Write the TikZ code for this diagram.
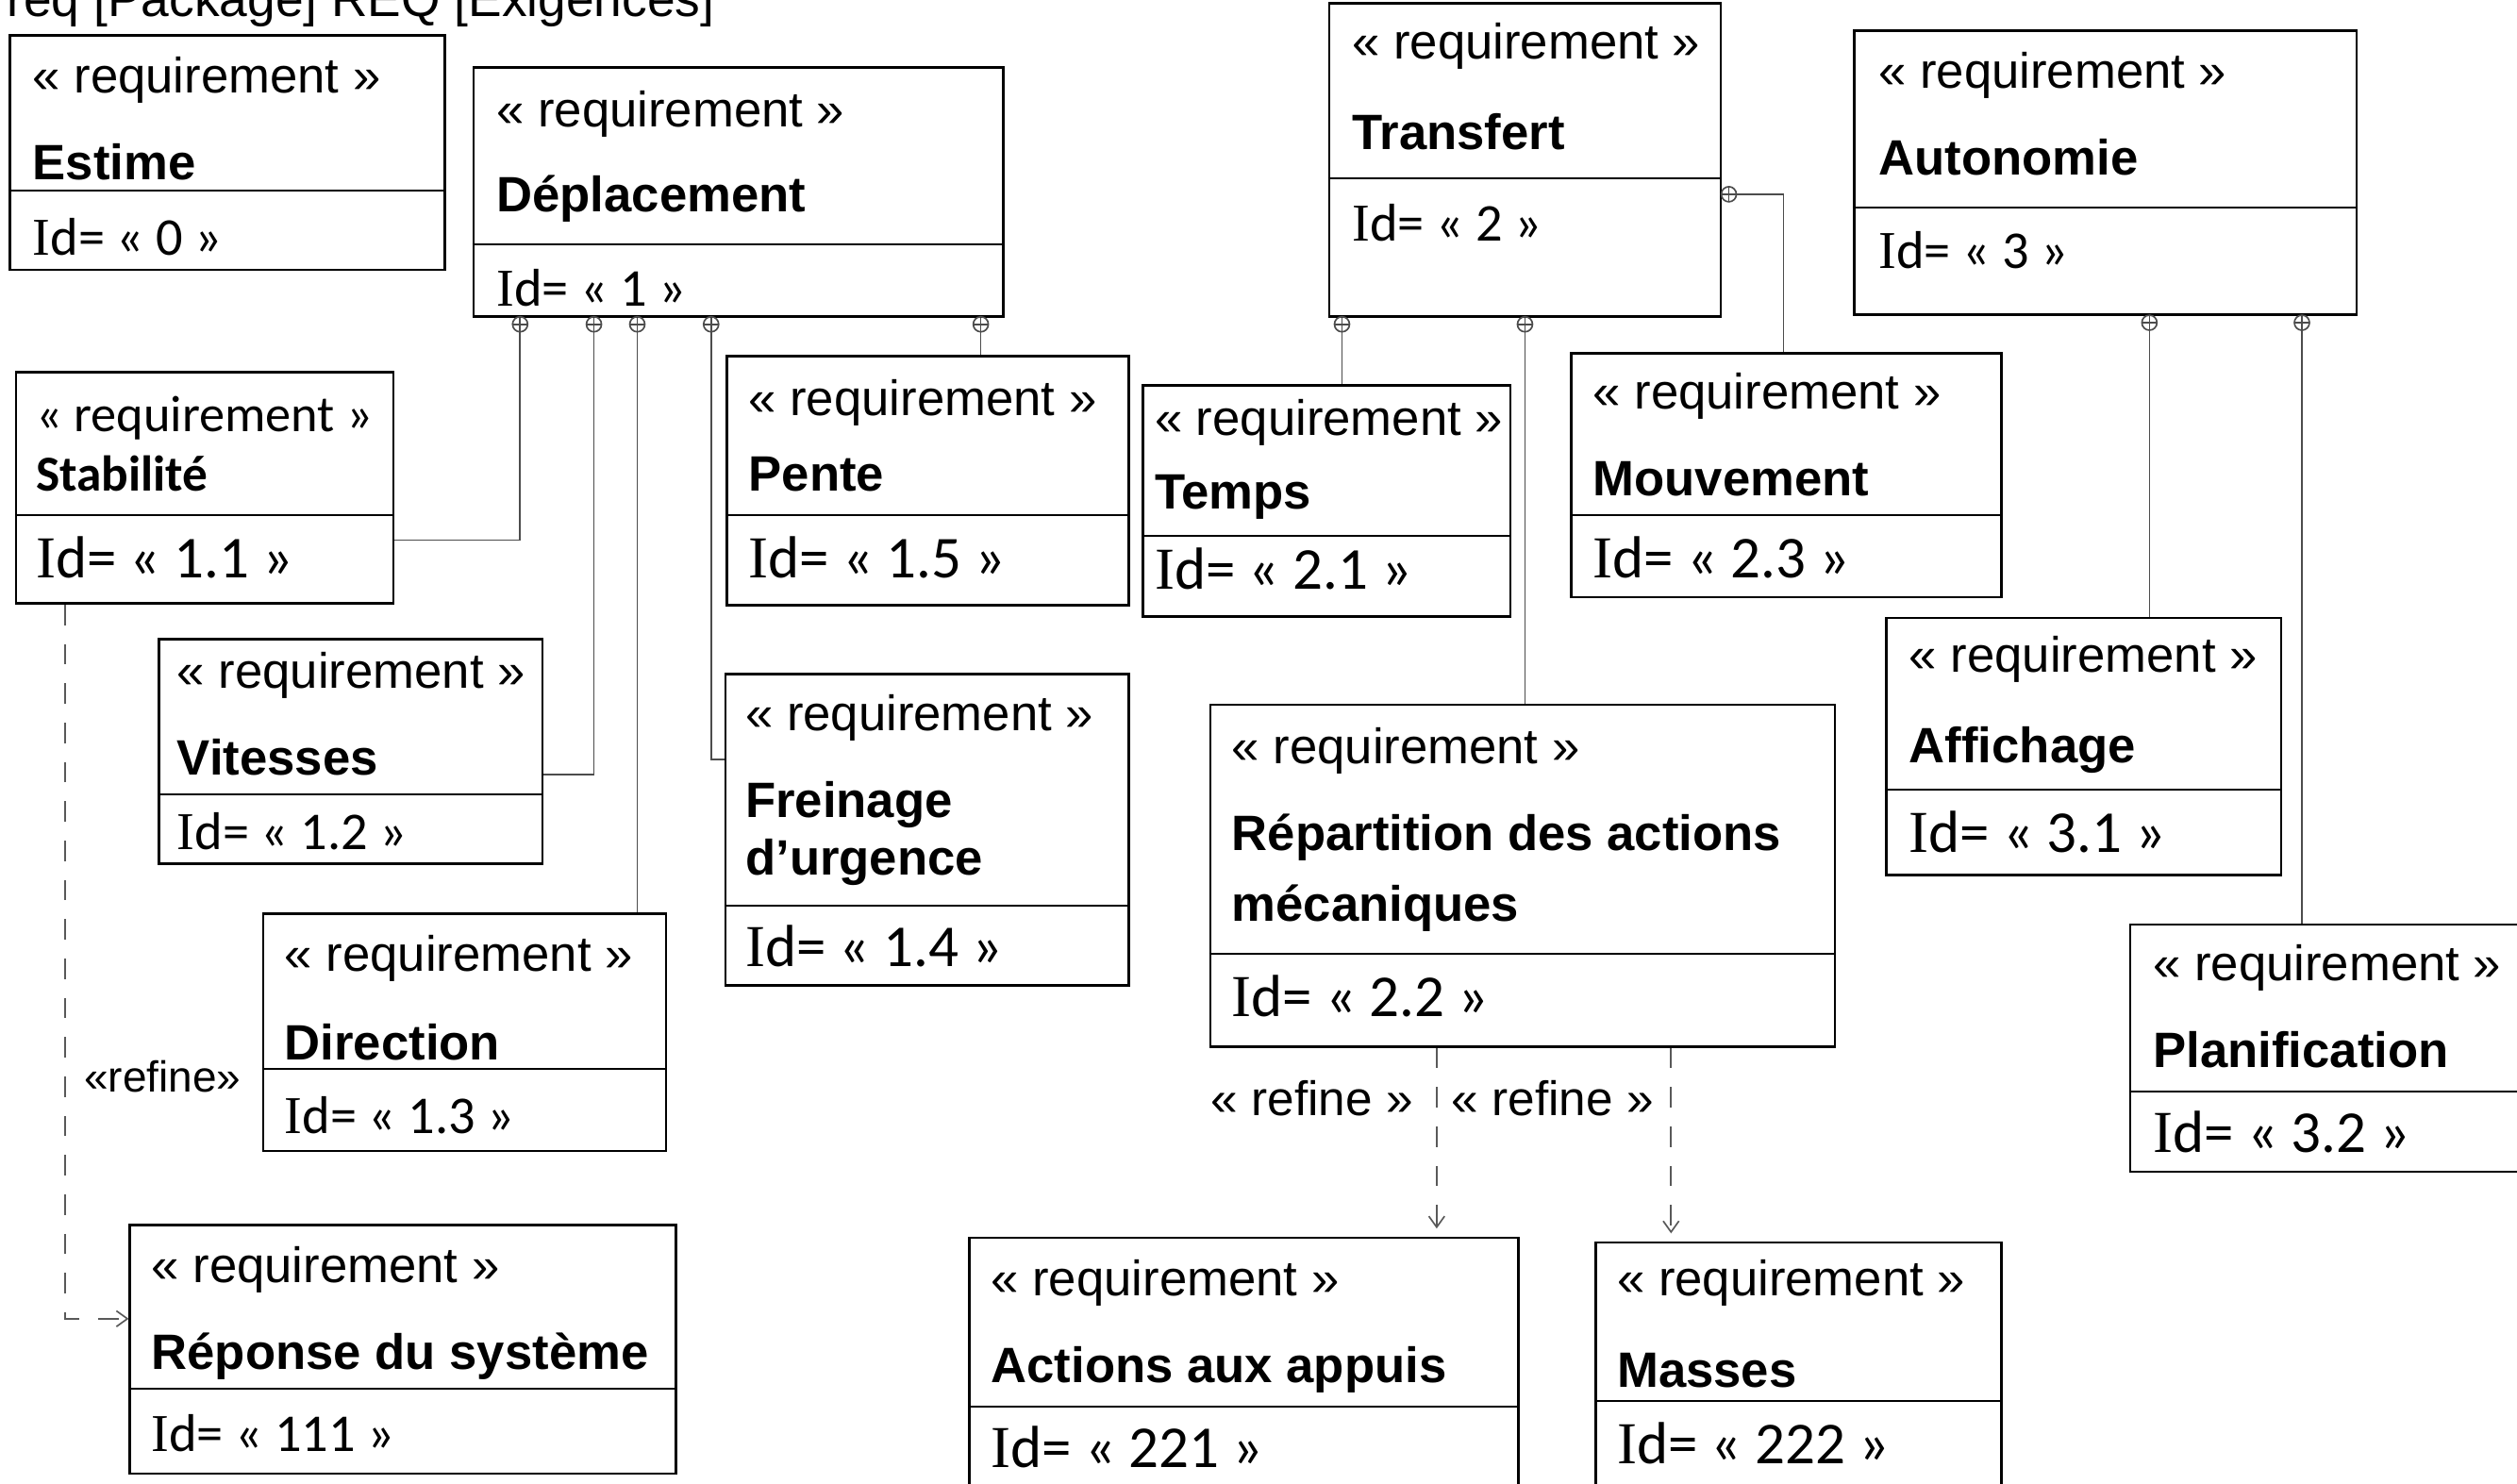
\documentclass[tikz,border=0pt]{standalone}
\usepackage{fontspec}
\setmainfont{Liberation Sans}
\newfontfamily\calib{Carlito}
\newfontfamily\serifI{Liberation Serif}
\usetikzlibrary{fit,arrows.meta}
\newcommand{\idI}{{\serifI I}}
\newcommand{\reqbox}[6]{%
  \node[box,fit={(#2,#3) (#4,#5)}] (#1) {};
  \draw[divl] (#1.west |- 0,#6) -- (#1.east |- 0,#6);}
\newcommand{\opb}[2]{% circle-plus below a bottom edge, centre given
  \draw[conn] (#1,#2) circle (2.4pt);
  \draw[conn] ([xshift=-2.4pt]#1,#2) -- ([xshift=2.4pt]#1,#2);}
\begin{document}
\begin{tikzpicture}[x=0.51045pt,y=-0.51045pt,
  box/.style={draw=black,line width=0.8pt,inner sep=0pt},
  divl/.style={draw=black,line width=0.6pt},
  txt/.style={anchor=base west,inner sep=0pt,yshift=-0.5pt,font=\fontsize{15.8}{18}\selectfont},
  nm/.style={anchor=base west,inner sep=0pt,yshift=-0.5pt,font=\fontsize{15.8}{18}\selectfont\bfseries},
  ids/.style={anchor=base west,inner sep=0pt,yshift=-1pt,font=\calib\fontsize{16.9}{19}\selectfont},
  idb/.style={anchor=base west,inner sep=0pt,yshift=-1pt,font=\calib\fontsize{18.9}{21}\selectfont},
  conn/.style={draw=black!70,line width=0.5pt},
  refine/.style={draw=black!65,line width=0.5pt,dash pattern=on 6.5pt off 6pt,
    -{Straight Barb[length=3.5pt,width=5pt]}},
  lab/.style={anchor=base west,inner sep=0pt,font=\fontsize{15.4}{18}\selectfont}]
\path[use as bounding box,clip] (0,0) rectangle (1568,924);

\node[anchor=base west,inner sep=0pt,font=\fontsize{16}{19}\selectfont] (title) at (4,10) {req [Package] REQ [Exigences]};

% Estime
\reqbox{est}{6}{22}{277}{168}{119}
\node[txt] (est-s) at (20,57) {« requirement »};
\node[nm] (est-n) at (20,111) {Estime};
\node[ids] (est-i) at (20,157) {\idI d= « 0 »};
% Deplacement
\reqbox{dep}{295}{42}{625}{197}{152}
\node[txt] (dep-s) at (309,78) {« requirement »};
\node[nm] (dep-n) at (309,131) {Déplacement};
\node[ids] (dep-i) at (309,189) {\idI d= « 1 »};
% Stabilite
\reqbox{stab}{10}{232}{245}{376}{321}
\node[anchor=base west,inner sep=0pt,yshift=-0.5pt,font=\calib\fontsize{16.3}{19}\selectfont] (stab-s) at (22,268) {« requirement »};
\node[anchor=base west,inner sep=0pt,yshift=-0.5pt,font=\calib\fontsize{16}{19}\selectfont\bfseries] (stab-n) at (22,305) {Stabilité};
\node[idb] (stab-i) at (22,358) {\idI d= « 1.1 »};
% Pente
\reqbox{pente}{453}{222}{703}{377}{321}
\node[txt] (pente-s) at (466,258) {« requirement »};
\node[nm] (pente-n) at (466,305) {Pente};
\node[idb] (pente-i) at (466,358) {\idI d= « 1.5 »};
% Vitesses
\reqbox{vit}{99}{398}{338}{538}{495}
\node[txt] (vit-s) at (110,428) {« requirement »};
\node[nm] (vit-n) at (110,482) {Vitesses};
\node[ids] (vit-i) at (110,527) {\idI d= « 1.2 »};
% Freinage
\reqbox{frein}{452}{420}{703}{614}{564}
\node[txt] (frein-s) at (464,454) {« requirement »};
\node[nm] (frein-n) at (464,508) {Freinage};
\node[nm] (frein-m) at (464,544) {d’urgence};
\node[idb] (frein-i) at (464,600) {\idI d= « 1.4 »};
% Direction
\reqbox{dir}{164}{569}{415}{717}{666}
\node[txt] (dir-s) at (177,604) {« requirement »};
\node[nm] (dir-n) at (177,659) {Direction};
\node[ids] (dir-i) at (177,704) {\idI d= « 1.3 »};
% Reponse
\reqbox{rep}{81}{763}{421}{918}{865}
\node[txt] (rep-s) at (94,798) {« requirement »};
\node[nm] (rep-n) at (94,852) {Réponse du système};
\node[ids] (rep-i) at (94,902) {\idI d= « 111 »};
% Transfert
\reqbox{trans}{828}{2}{1072}{197}{111}
\node[txt] (trans-s) at (842,36) {« requirement »};
\node[nm] (trans-n) at (842,92) {Transfert};
\node[ids] (trans-i) at (842,148) {\idI d= « 2 »};
% Autonomie
\reqbox{auto}{1155}{19}{1468}{196}{129}
\node[txt] (auto-s) at (1170,54) {« requirement »};
\node[nm] (auto-n) at (1170,108) {Autonomie};
\node[ids] (auto-i) at (1170,165) {\idI d= « 3 »};
% Temps
\reqbox{temps}{712}{240}{941}{384}{334}
\node[txt] (temps-s) at (719,270) {« requirement »};
\node[nm] (temps-n) at (719,316) {Temps};
\node[idb] (temps-i) at (719,365) {\idI d= « 2.1 »};
% Mouvement
\reqbox{mouv}{979}{220}{1247}{372}{321}
\node[txt] (mouv-s) at (992,254) {« requirement »};
\node[nm] (mouv-n) at (992,308) {Mouvement};
\node[idb] (mouv-i) at (992,358) {\idI d= « 2.3 »};
% Affichage
\reqbox{aff}{1175}{385}{1421}{545}{492}
\node[txt] (aff-s) at (1189,418) {« requirement »};
\node[nm] (aff-n) at (1189,474) {Affichage};
\node[idb] (aff-i) at (1189,529) {\idI d= « 3.1 »};
% Repartition
\reqbox{repa}{754}{439}{1143}{652}{594}
\node[txt] (repa-s) at (767,475) {« requirement »};
\node[nm] (repa-n) at (767,529) {Répartition des actions};
\node[nm] (repa-m) at (767,573) {mécaniques};
\node[idb] (repa-i) at (767,631) {\idI d= « 2.2 »};
% Planification
\reqbox{plan}{1327}{576}{1590}{730}{680}
\node[txt] (plan-s) at (1341,610) {« requirement »};
\node[nm] (plan-n) at (1341,664) {Planification};
\node[idb] (plan-i) at (1341,716) {\idI d= « 3.2 »};
% Actions aux appuis
\reqbox{act}{604}{771}{946}{970}{876}
\node[txt] (act-s) at (617,806) {« requirement »};
\node[nm] (act-n) at (617,860) {Actions aux appuis};
\node[idb] (act-i) at (617,912) {\idI d= « 221 »};
% Masses
\reqbox{mas}{994}{774}{1247}{970}{873}
\node[txt] (mas-s) at (1007,806) {« requirement »};
\node[nm] (mas-n) at (1007,863) {Masses};
\node[idb] (mas-i) at (1007,910) {\idI d= « 222 »};

% containment connectors
\draw[conn] (dep.south -| 324,0) |- (stab.east |- 0,336.5);
\draw[conn] (dep.south -| 370,0) |- (vit.east |- 0,482.5);
\draw[conn] (dep.south -| 397,0) -- (dir.north -| 397,0);
\draw[conn] (dep.south -| 443,0) |- (frein.west |- 0,473);
\draw[conn] (dep.south -| 611,0) -- (pente.north -| 611,0);
\draw[conn] (trans.south -| 836,0) -- (temps.north -| 836,0);
\draw[conn] (trans.south -| 950,0) -- (repa.north -| 950,0);
\draw[conn] (trans.east |- 0,121) -| (mouv.north -| 1111,0);
\draw[conn] (auto.south -| 1339,0) -- (aff.north -| 1339,0);
\draw[conn] (auto.south -| 1434,0) -- (plan.north -| 1434,0);
\opb{324}{202}
\opb{370}{202}
\opb{397}{202}
\opb{443}{202}
\opb{611}{202}
\opb{836}{202}
\opb{950}{202}
\opb{1339}{201}
\opb{1434}{201}
\draw[conn] (1077,121) circle (2.4pt);
\draw[conn] ([yshift=-2.4pt]1077,121) -- ([yshift=2.4pt]1077,121);

% refine dependencies
\draw[refine] (stab.south -| 40.5,0) |- (rep.west |- 0,821.5);
\draw[refine,shorten >=2.5pt] (repa.south -| 895,0) -- (act.north -| 895,0);
\draw[refine,shorten >=2.5pt] (repa.south -| 1041,0) -- (mas.north -| 1041,0);
\node[anchor=base west,inner sep=0pt,font=\fontsize{13.8}{16}\selectfont] (lab1) at (52,680) {«refine»};
\node[lab] (lab2) at (754,695) {« refine »};
\node[lab] (lab3) at (904,695) {« refine »};
\end{tikzpicture}
\end{document}
